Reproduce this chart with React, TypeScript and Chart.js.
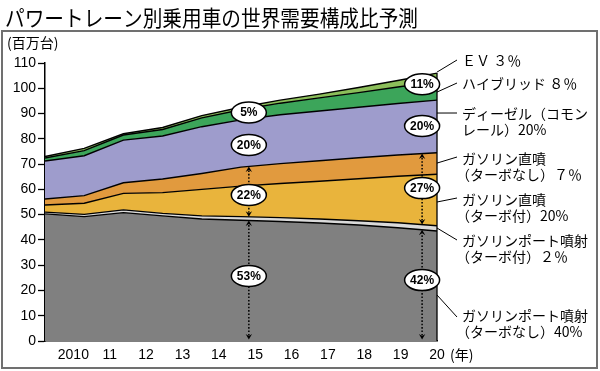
import React, { useEffect, useRef } from 'react';
import { Chart, registerables } from 'chart.js';

Chart.register(...registerables);

const TITLE = 'パワートレーン別乗用車の世界需要構成比予測';
const UNIT = '(百万台)';
const YEAR_UNIT = '(年)';

const YEARS = [2010, 2011, 2012, 2013, 2014, 2015, 2016, 2017, 2018, 2019, 2020];
const YEAR_LABELS = ['2010', '11', '12', '13', '14', '15', '16', '17', '18', '19', '20'];

// million units, stacked bottom → top
const PORT_NA = [50.3, 49.2, 50.8, 49.5, 48.3, 47.8, 47.3, 46.7, 45.9, 44.8, 43.5];
const PORT_TURBO = [0.7, 0.9, 1.1, 1.0, 1.2, 1.4, 1.5, 1.6, 1.7, 2.0, 2.1];
const DI_TURBO = [2.8, 4.4, 6.5, 8.2, 10.5, 12.1, 13.5, 14.9, 16.6, 18.4, 20.4];
const DI_NA = [2.4, 3.0, 4.2, 5.4, 6.3, 7.5, 7.9, 8.1, 8.3, 8.4, 8.5];
const DIESEL = [15.0, 15.8, 16.9, 17.0, 18.5, 18.7, 19.3, 19.7, 20.0, 20.4, 20.8];
const HYBRID = [1.2, 2.0, 2.0, 2.6, 3.5, 4.0, 4.6, 5.2, 5.8, 6.5, 7.4];
const EV = [0.6, 0.9, 0.5, 0.8, 0.9, 1.0, 1.2, 1.5, 2.0, 2.6, 3.3];

const SERIES = [PORT_NA, PORT_TURBO, DI_TURBO, DI_NA, DIESEL, HYBRID, EV];
const SERIES_NAMES = [
  'ガソリンポート噴射（ターボなし）',
  'ガソリンポート噴射（ターボ付）',
  'ガソリン直噴（ターボ付）',
  'ガソリン直噴（ターボなし）',
  'ディーゼル（コモンレール）',
  'ハイブリッド',
  'EV',
];
const SERIES_COLORS = ['#808080', '#dadada', '#e9b43c', '#e19a3e', '#9e9ccc', '#3ca55a', '#8cbe5a'];

// share bubbles (value coordinates)
const SHARE_TEXT = ['53%', '22%', '20%', '5%', '42%', '27%', '20%', '11%'];
const SHARE_X = [2015.2, 2015.2, 2015.2, 2015.2, 2019.62, 2019.62, 2019.62, 2019.62];
const SHARE_Y = [25.7, 57.8, 77.6, 90.4, 24.1, 60.5, 85.1, 101.6];

// dotted double arrows: x, from top of layer lo (-1 = zero) to top of layer hi
const ARROW_X = [2015.2, 2015.2, 2019.62, 2019.62];
const ARROW_LO = [-1, 1, -1, 1];
const ARROW_HI = [0, 3, 0, 3];

// right side labels
const LABEL_LINES = [
  ['ＥＶ ３％'],
  ['ハイブリッド ８％'],
  ['ディーゼル（コモン', 'レール）20%'],
  ['ガソリン直噴', '（ターボなし）７％'],
  ['ガソリン直噴', '（ターボ付）20%'],
  ['ガソリンポート噴射', '（ターボ付）２％'],
  ['ガソリンポート噴射', '（ターボなし）40%'],
];
const LABEL_ANCHOR = [106.4, 98.5, 90.2, 70.4, 55.0, 44.7, 18.2];
const LABEL_TOP = [61, 84, 114, 159, 200, 241, 316];
const LEADER_END_Y = [60, 83, 113, 157, 198, 240, 317];

const JP = '"Noto Sans CJK JP", "Noto Sans", sans-serif';
const LAT = '"Liberation Sans", Arial, sans-serif';

function cumulativeAt(layer: number, xv: number): number {
  if (layer < 0) return 0;
  let i = Math.floor(xv - YEARS[0]);
  if (i > YEARS.length - 2) i = YEARS.length - 2;
  if (i < 0) i = 0;
  const t = xv - YEARS[i];
  let a = 0;
  let b = 0;
  for (let k = 0; k <= layer; k++) {
    a += SERIES[k][i];
    b += SERIES[k][i + 1];
  }
  return a + (b - a) * t;
}

function arrowHead(ctx: CanvasRenderingContext2D, x: number, y: number, dir: number) {
  ctx.beginPath();
  ctx.moveTo(x, y);
  ctx.lineTo(x - 3.2, y - dir * 5.5);
  ctx.lineTo(x, y - dir * 3.5);
  ctx.lineTo(x + 3.2, y - dir * 5.5);
  ctx.closePath();
  ctx.fill();
}

const overlay = {
  id: 'overlay',
  beforeDraw(chart: any) {
    const ctx = chart.ctx as CanvasRenderingContext2D;
    ctx.save();
    ctx.fillStyle = '#ffffff';
    ctx.fillRect(0, 0, chart.width, chart.height);
    ctx.restore();
  },
  afterDatasetsDraw(chart: any) {
    const ctx = chart.ctx as CanvasRenderingContext2D;
    const xs = chart.scales.x;
    const ys = chart.scales.y;
    ctx.save();
    // right edge of stacked area
    const lastX = xs.getPixelForValue(YEARS[YEARS.length - 1]);
    ctx.strokeStyle = '#000';
    ctx.lineWidth = 1.3;
    ctx.beginPath();
    ctx.moveTo(lastX, ys.getPixelForValue(0));
    ctx.lineTo(lastX, ys.getPixelForValue(cumulativeAt(SERIES.length - 1, YEARS[YEARS.length - 1])));
    ctx.stroke();

    // arrows
    ctx.fillStyle = '#000';
    for (let i = 0; i < ARROW_X.length; i++) {
      const px = xs.getPixelForValue(ARROW_X[i]);
      const y0 = ys.getPixelForValue(cumulativeAt(ARROW_LO[i], ARROW_X[i]));
      const y1 = ys.getPixelForValue(cumulativeAt(ARROW_HI[i], ARROW_X[i]));
      const bottom = ARROW_LO[i] < 0 ? y0 - 1.5 : y0;
      ctx.setLineDash([1.6, 1.8]);
      ctx.lineWidth = 1.5;
      ctx.beginPath();
      ctx.moveTo(px, bottom - 4);
      ctx.lineTo(px, y1 + 4);
      ctx.stroke();
      ctx.setLineDash([]);
      arrowHead(ctx, px, bottom, 1);
      arrowHead(ctx, px, y1, -1);
    }

    // share bubbles
    for (let i = 0; i < SHARE_TEXT.length; i++) {
      const px = xs.getPixelForValue(SHARE_X[i]);
      const py = ys.getPixelForValue(SHARE_Y[i]);
      ctx.beginPath();
      ctx.ellipse(px, py, 17.5, 10.5, 0, 0, Math.PI * 2);
      ctx.fillStyle = '#fff';
      ctx.fill();
      ctx.lineWidth = 1.5;
      ctx.strokeStyle = '#000';
      ctx.stroke();
      ctx.fillStyle = '#000';
      ctx.font = `bold 12px ${LAT}`;
      ctx.textAlign = 'center';
      ctx.textBaseline = 'middle';
      ctx.fillText(SHARE_TEXT[i], px, py + 0.5);
    }

    // leader lines + labels
    ctx.strokeStyle = '#000';
    ctx.lineWidth = 1;
    ctx.font = `14px ${JP}`;
    ctx.textAlign = 'left';
    ctx.textBaseline = 'middle';
    for (let i = 0; i < LABEL_LINES.length; i++) {
      const sy = ys.getPixelForValue(LABEL_ANCHOR[i]);
      ctx.beginPath();
      ctx.moveTo(lastX, sy);
      ctx.lineTo(lastX + 20, LEADER_END_Y[i]);
      ctx.stroke();
      LABEL_LINES[i].forEach((ln, j) => {
        const x = ln.startsWith('（') ? 456 : 462;
        ctx.fillText(ln, x, LABEL_TOP[i] + j * 16);
      });
    }
    ctx.restore();
  },
  afterDraw(chart: any) {
    const ctx = chart.ctx as CanvasRenderingContext2D;
    ctx.save();
    // frame
    ctx.strokeStyle = '#707070';
    ctx.lineWidth = 2;
    ctx.strokeRect(2, 31, 595, 337);
    // title
    ctx.fillStyle = '#000';
    ctx.font = `22px ${JP}`;
    ctx.textBaseline = 'middle';
    ctx.textAlign = 'left';
    const w = ctx.measureText(TITLE).width;
    ctx.save();
    ctx.translate(5, 18);
    ctx.scale(413 / w, 1);
    ctx.fillText(TITLE, 0, 0);
    ctx.restore();
    // unit
    ctx.font = `14px ${JP}`;
    ctx.fillText(UNIT, 7, 43);
    ctx.fillText(YEAR_UNIT, 450, 355);
    ctx.restore();
  },
};

export default function App() {
  const ref = useRef<HTMLCanvasElement | null>(null);
  useEffect(() => {
    document.body.style.margin = '0';
    if (!ref.current) return;
    const chart = new Chart(ref.current, {
      type: 'line',
      data: {
        datasets: SERIES.map((s, k) => ({
          label: SERIES_NAMES[k],
          data: YEARS.map((yr, i) => ({ x: yr, y: s[i] })),
          backgroundColor: SERIES_COLORS[k],
          borderColor: '#000',
          borderWidth: 1.4,
          fill: k === 0 ? 'origin' : '-1',
          pointRadius: 0,
          tension: 0,
        })),
      },
      options: {
        responsive: false,
        animation: false,
        devicePixelRatio: 1,
        layout: { padding: { top: 63, right: 163, bottom: 0, left: 0 } },
        plugins: {
          legend: { display: false },
          tooltip: { enabled: false },
          title: { display: false },
        },
        scales: {
          x: { type: 'linear', min: 2010, max: 2020, display: false },
          x2: {
            type: 'linear',
            position: 'bottom',
            min: 2009.22,
            max: 2020,
            grid: { display: false, drawTicks: false },
            border: { display: true, color: '#000', width: 1.5 },
            ticks: {
              autoSkip: false,
              maxRotation: 0,
              padding: 6,
              color: '#000',
              font: { family: LAT, size: 14 },
              callback: (v: any) => {
                const idx = YEARS.indexOf(Number(v));
                return idx >= 0 ? YEAR_LABELS[idx] : '';
              },
            },
            afterBuildTicks: (scale: any) => {
              scale.ticks = YEARS.map((v) => ({ value: v }));
            },
            afterFit: (scale: any) => {
              scale.height = 30;
            },
          },
          y: {
            stacked: true,
            min: 0,
            max: 110,
            ticks: { stepSize: 10, color: '#000', padding: 2, font: { family: LAT, size: 14 } },
            grid: { drawOnChartArea: false, drawTicks: true, tickLength: 7, tickColor: '#000', tickWidth: 1.3 },
            border: { color: '#000', width: 1.5 },
            afterFit: (scale: any) => {
              scale.width = 45;
            },
          },
        },
      } as any,
      plugins: [overlay],
    });
    return () => chart.destroy();
  }, []);
  return (
    <div style={{ position: 'absolute', left: 0, top: 0, width: 600, height: 371 }}>
      <canvas ref={ref} width={600} height={371} style={{ display: 'block', width: 600, height: 371 }} />
    </div>
  );
}
